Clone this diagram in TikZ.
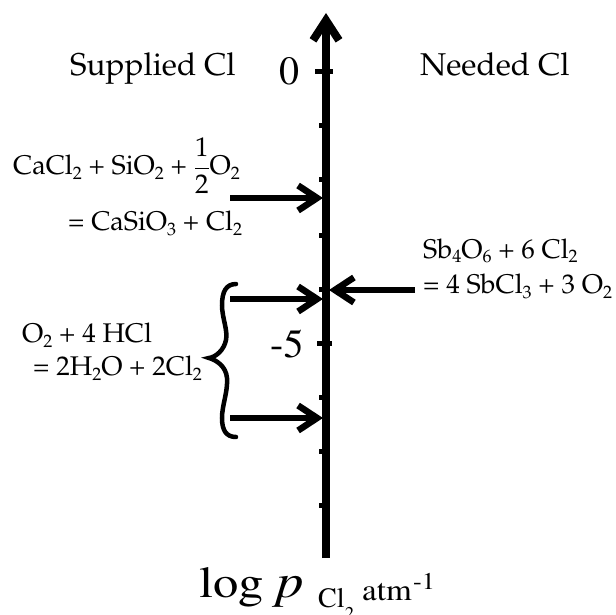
\documentclass[tikz,border=0pt]{standalone}
\usepackage[T1]{fontenc}
\usepackage{mathpazo}
\usetikzlibrary{arrows.meta}
\newcommand\sbx[1]{\raisebox{-5pt}{\fontsize{18}{18}\selectfont #1}}
\newcommand\wide[1]{\scalebox{1.15}[1]{#1}}
\begin{document}
\begin{tikzpicture}[x=1pt,y=-1pt,
  chem/.style={inner sep=0,anchor=base west,font=\fontsize{27}{32}\selectfont},
  head/.style={inner sep=0,anchor=base west,font=\fontsize{31.5}{36}\selectfont},
  num/.style={inner sep=0,anchor=base west,font=\fontfamily{ptm}\fontsize{40}{44}\selectfont},
  lab/.style={inner sep=0,anchor=base west},
  axisline/.style={line width=8pt,-{Straight Barb[length=20pt,width=26pt]}},
  feed/.style={line width=6.5pt,-{Straight Barb[length=19pt,width=25pt]}},
  major/.style={line width=5pt},
  minor/.style={line width=5pt},
  bracestyle/.style={line width=4.5pt,line cap=round}]
\useasboundingbox (0,0) rectangle (616,615);

% axis
\coordinate (abot) at (326,558);
\coordinate (atop) at (326,13);
\draw[axisline] (abot) -- (atop);
\draw[major] (315,72) -- (333,72);
\draw[major] (317,343) -- (332,343);
\foreach \y in {126,180,235,289,397,451,505}
  \draw[minor] (319,\y) -- (326,\y);

% labels
\node[head] (sup) at (70,76) {Supplied Cl};
\node[head] (need) at (420,76) {Needed Cl};
\node[num] (zero) at (279,85) {0};
\node[num] (five) at (270,357) {-5};

% reactions
\node[chem] (r1a) at (13,175) {CaCl\sbx{2} + SiO\sbx{2} + $\displaystyle\frac{1}{2}$O\sbx{2}};
\node[chem] (r1b) at (68,230) {= CaSiO\sbx{3} + Cl\sbx{2}};
\node[chem] (r2a) at (22,342) {O\sbx{2} + 4 HCl};
\node[chem] (r2b) at (33,375) {= 2H\sbx{2}O + 2Cl\sbx{2}};
\node[chem] (r3a) at (423,258) {Sb\sbx{4}O\sbx{6} + 6 Cl\sbx{2}};
\node[chem] (r3b) at (423,293) {= 4 SbCl\sbx{3} + 3 O\sbx{2}};

% arrows
\coordinate (s1) at (230,198); \coordinate (t1) at (323,198);
\coordinate (s2) at (230,299); \coordinate (t2) at (323,299);
\coordinate (s3) at (230,418); \coordinate (t3) at (323,418);
\coordinate (s4) at (415,290); \coordinate (t4) at (329,290);
\draw[feed] (s1) -- (t1);
\draw[feed] (s2) -- (t2);
\draw[feed] (s3) -- (t3);
\draw[feed] (s4) -- (t4);

% brace
\draw[bracestyle] (236,284) .. controls (226,284) and (222,292) .. (222,305)
  .. controls (222,318) and (228,330) .. (226,340)
  .. controls (224,350) and (216,357) .. (209,358)
  .. controls (216,360) and (226,366) .. (227,378)
  .. controls (228,392) and (222,405) .. (222,418)
  .. controls (222,430) and (226,437) .. (236,437);

% bottom label
\node[lab,font=\fontfamily{ptm}\fontsize{44}{46}\selectfont] (log) at (199,597) {\wide{log}};
\node[lab,font=\fontfamily{ptm}\fontshape{it}\fontsize{48}{50}\selectfont] (pp) at (276,597) {\wide{p}};
\node[lab,font=\fontfamily{ptm}\fontsize{28}{30}\selectfont] (cl) at (318,607) {Cl};
\node[lab,font=\fontfamily{ptm}\fontsize{18}{20}\selectfont] (cltwo) at (345,619) {2};
\node[lab,font=\fontfamily{ptm}\fontsize{30}{32}\selectfont] (atm) at (362,600) {\scalebox{1.1}[1]{atm}};
\node[lab,font=\fontfamily{ptm}\fontsize{24}{26}\selectfont] (exp) at (413,589) {\scalebox{1.1}[1]{-1}};
\end{tikzpicture}
\end{document}
